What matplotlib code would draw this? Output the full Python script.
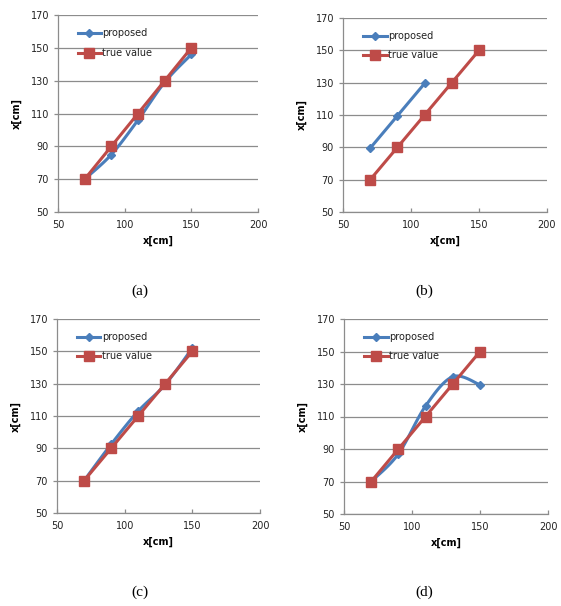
import numpy as np
import matplotlib.pyplot as plt

# distances along x [cm]
x_true = [70, 90, 110, 130, 150]
y_true = [70, 90, 110, 130, 150]

x_a = [70, 90, 110, 130, 150]
y_a = [70, 85, 106, 129, 146]
x_b = [70, 90, 110]
y_b = [89.5, 109.5, 129.5]
x_c = [70, 90, 110, 130, 150]
y_c = [70, 92.5, 113, 129.5, 152]
x_d = [70, 90, 110, 130, 150]
y_d = [70, 87, 116.5, 134.5, 129.5]

panels = [("(a)", x_a, y_a), ("(b)", x_b, y_b), ("(c)", x_c, y_c), ("(d)", x_d, y_d)]

BLUE = "#4a7ebb"
RED = "#be4b48"
W, H = 561, 606


def smooth(xs, ys, n=20):
    # Excel-like smoothed line (Catmull-Rom through the points)
    p = np.column_stack([xs, ys]).astype(float)
    if len(p) < 3:
        return p[:, 0], p[:, 1]
    ext = np.vstack([p[0], p, p[-1]])
    out = []
    for i in range(1, len(ext) - 2):
        p0, p1, p2, p3 = ext[i - 1], ext[i], ext[i + 1], ext[i + 2]
        t = np.linspace(0, 1, n)[:, None]
        seg = 0.5 * ((2 * p1) + (-p0 + p2) * t + (2 * p0 - 5 * p1 + 4 * p2 - p3) * t ** 2
                     + (-p0 + 3 * p1 - 3 * p2 + p3) * t ** 3)
        out.append(seg)
    out = np.vstack(out)
    return out[:, 0], out[:, 1]


fig = plt.figure(figsize=(W / 100, H / 100), dpi=100)

# axes boxes in pixels: left, top, right, bottom
boxes = [(58, 15, 258, 212), (343, 18, 547, 212), (57, 319, 260, 513), (344, 319, 548, 514)]
caps = [(140, 291), (424, 291), (140, 592), (424, 592)]

for (cap, xs, ys), (l, t, r, b), (cx, cy) in zip(panels, boxes, caps):
    ax = fig.add_axes([l / W, 1 - b / H, (r - l) / W, (b - t) / H])
    sx, sy = smooth(xs, ys)
    ax.plot(sx, sy, color=BLUE, lw=2.2, zorder=3)
    ax.plot(xs, ys, ls="none", marker="D", ms=4.5, color=BLUE, zorder=3)
    ax.plot(x_true, y_true, color=RED, lw=2.2, marker="s", ms=6.5, zorder=4)
    ax.set_xlim(50, 200)
    ax.set_ylim(50, 170)
    ax.set_xticks([50, 100, 150, 200])
    ax.set_yticks(range(50, 171, 20))
    ax.yaxis.grid(True, color="#8c8c8c", lw=0.9)
    ax.set_axisbelow(True)
    for s in ["top", "right"]:
        ax.spines[s].set_visible(False)
    for s in ["left", "bottom"]:
        ax.spines[s].set_color("#8c8c8c")
        ax.spines[s].set_linewidth(0.9)
    ax.tick_params(labelsize=7, colors="#8c8c8c", labelcolor="#222222", length=3, width=0.9)
    ax.tick_params(axis="x", direction="in", pad=6)
    ax.set_xlabel("x[cm]", fontsize=7, fontweight="bold", labelpad=4)
    ax.set_ylabel("x[cm]", fontsize=7, fontweight="bold", labelpad=6)

    # legend drawn like Excel's
    ax.plot([65, 82], [159, 159], color=BLUE, lw=2.2, zorder=5)
    ax.plot([73.5], [159], ls="none", marker="D", ms=4.5, color=BLUE, zorder=5)
    ax.plot([65, 82], [147, 147], color=RED, lw=2.2, zorder=5)
    ax.plot([73.5], [147], ls="none", marker="s", ms=6.5, color=RED, zorder=5)
    ax.text(83, 159, "proposed", fontsize=7, va="center", color="#222222")
    ax.text(83, 147, "true value", fontsize=7, va="center", color="#222222")

    fig.text(cx / W, 1 - cy / H, cap, ha="center", va="center", fontsize=11,
             family="Liberation Serif")

fig.savefig("out.png", dpi=100)
